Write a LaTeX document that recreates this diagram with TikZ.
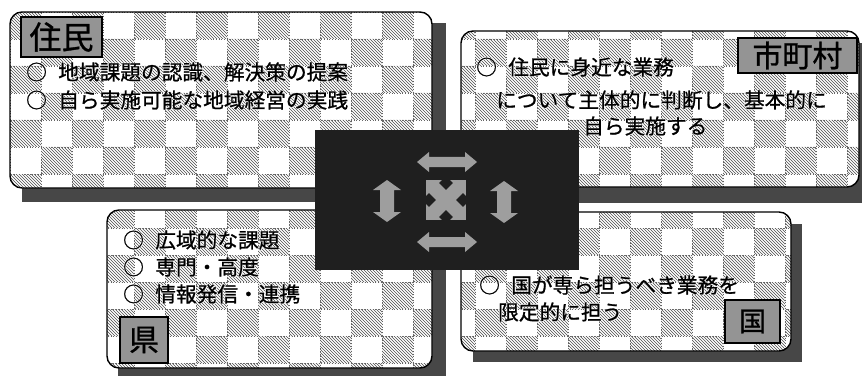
\documentclass[tikz,border=0pt]{standalone}
\usepackage{fontspec}
\newfontfamily\jp[FakeBold=1.0]{Noto Sans CJK JP}
\newfontfamily\jphalo[FakeBold=6]{Noto Sans CJK JP}
\usetikzlibrary{patterns}
\tikzset{
  shadowbox/.style={fill=black!72},
  panelbox/.style={fill=white, inner sep=0pt, outer sep=0pt, anchor=north west},
  panelrim/.style={draw=black, line width=1.4pt, rounded corners=12pt},
  tagbox/.style={draw=black, line width=1.5pt, fill=black!42, inner sep=0pt, text=black},
  bodytext/.style={anchor=west, inner sep=0pt, text=black, font=\jp\fontsize{20.7}{24}\selectfont},
  halotext/.style={anchor=west, inner sep=0pt, text=white, font=\jphalo\fontsize{20.7}{24}\selectfont},
  arrowfill/.style={fill=black!38},
}
\newcommand\dblarr[7]{%
  \fill[arrowfill, shift={(#1,#2)}, rotate=#3] (-#4,0) -- (-#4+#5,#7) -- (-#4+#5,#6) -- (#4-#5,#6) -- (#4-#5,#7) -- (#4,0) -- (#4-#5,-#7) -- (#4-#5,-#6) -- (-#4+#5,-#6) -- (-#4+#5,-#7) -- cycle;}
\newcommand\btext[4]{%
  \node[halotext] (#1h) at (#2,#3) {#4};
  \node[bodytext] (#1) at (#2,#3) {#4};}
\newcommand\bulletmark{○\hspace{0.55em}}
\begin{document}
\begin{tikzpicture}[x=1pt, y=-1pt]
\useasboundingbox (0,0) rectangle (862,377);
% panels (positions)
\node[panelbox, minimum width=422pt, minimum height=176pt] (A) at (10,12) {};
\node[panelbox, minimum width=398pt, minimum height=156pt] (B) at (461,31) {};
\node[panelbox, minimum width=325pt, minimum height=158pt] (C) at (107,210) {};
\node[panelbox, minimum width=330pt, minimum height=139pt] (D) at (461,212) {};
% shadows
\fill[shadowbox] ([shift={(12,11)}]A.north west) rectangle ([shift={(14,14)}]A.south east);
\fill[shadowbox] ([shift={(12,12)}]B.north west) rectangle ([shift={(14,16)}]B.south east);
\fill[shadowbox] ([shift={(11,12)}]C.north west) rectangle ([shift={(14,8)}]C.south east);
\fill[shadowbox] ([shift={(12,12)}]D.north west) rectangle ([shift={(11,11)}]D.south east);
% white panel bodies
\foreach \p in {A,B,C,D} {\fill[white, rounded corners=12pt] (\p.north west) rectangle (\p.south east);}
% plaid
\begin{scope}
\clip[rounded corners=12pt] (A.north west) rectangle (A.south east)
  (B.north west) rectangle (B.south east)
  (C.north west) rectangle (C.south east)
  (D.north west) rectangle (D.south east);
\fill[pattern=north west lines, pattern color=black!70]
  \foreach \j in {0,...,13} {\foreach \k in {0,...,14} {({10+31*(2*\k+mod(\j,2))},{12+27*\j}) rectangle ++(31,27)}};
\draw[dotted, black!60, line width=0.7pt]
  \foreach \i in {0,...,28} {({10+31*\i},0) -- ++(0,377)}
  \foreach \j in {0,...,14} {(0,{12+27*\j}) -- ++(862,0)};
\end{scope}
\foreach \p in {A,B,C,D} {\draw[panelrim] (\p.north west) rectangle (\p.south east);}
% name tags
\node[tagbox, minimum width=81pt, minimum height=40pt, font=\jp\fontsize{32}{32}\selectfont] (tA) at (61.5,37) {住民};
\node[tagbox, minimum width=119pt, minimum height=35pt, font=\jp\fontsize{30}{30}\selectfont] (tB) at (797.5,55.5) {市町村};
\node[tagbox, minimum width=48pt, minimum height=46pt, font=\jp\fontsize{30}{30}\selectfont] (tC) at (144,340) {県};
\node[tagbox, minimum width=55pt, minimum height=43pt, font=\jp\fontsize{27}{27}\selectfont] (tD) at (752.5,321.5) {国};
% texts
\btext{a1}{26}{72}{\bulletmark 地域課題の認識、解決策の提案}
\btext{a2}{26}{100}{\bulletmark 自ら実施可能な地域経営の実践}
\btext{b1}{476}{67}{\bulletmark 住民に身近な業務}
\btext{b2}{496}{100}{について主体的に判断し、基本的に}
\btext{b3}{583}{126}{自ら実施する}
\btext{c1}{123}{240}{\bulletmark 広域的な課題}
\btext{c2}{123}{267}{\bulletmark 専門・高度}
\btext{c3}{123}{294}{\bulletmark 情報発信・連携}
\btext{d1}{479}{285}{\bulletmark 国が専ら担うべき業務を}
\btext{d2}{498}{312}{限定的に担う}
% centre block
\node[fill=black!88, inner sep=0pt, outer sep=0pt, anchor=north west, minimum width=264pt, minimum height=140pt] (E) at (315,130) {};
\dblarr{447}{162}{0}{30}{12}{5}{10}
\dblarr{447}{242}{0}{30}{12}{5}{10}
\dblarr{387}{201}{90}{21}{10}{7}{14}
\dblarr{504}{202}{90}{21}{10}{7}{14}
\dblarr{446}{200}{45}{28}{11}{7}{11}
\dblarr{446}{200}{-45}{28}{11}{7}{11}
\end{tikzpicture}
\end{document}
